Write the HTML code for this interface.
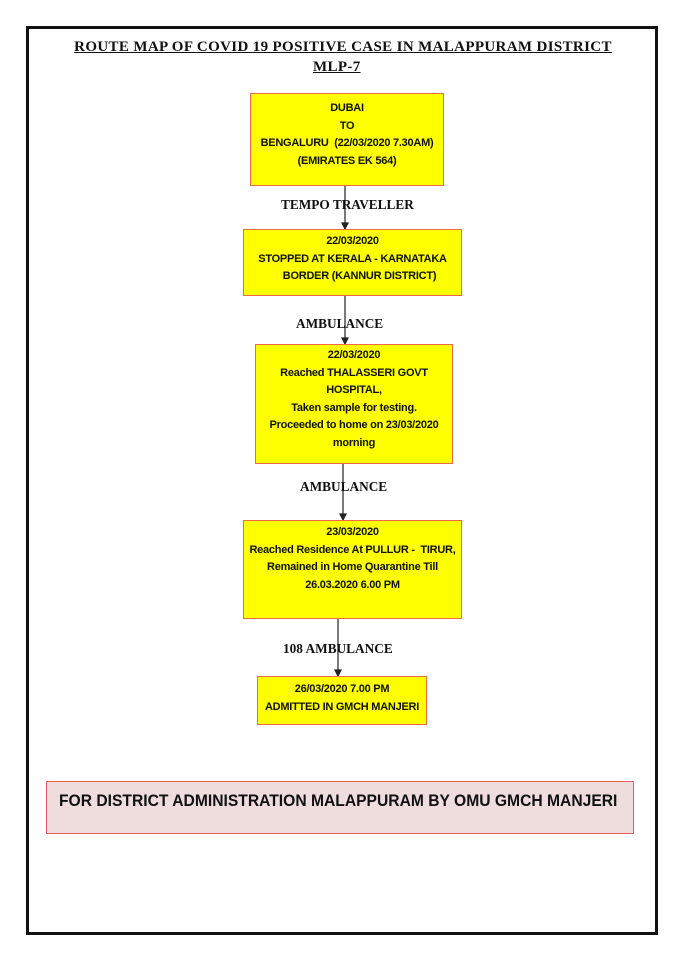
<!DOCTYPE html>
<html><head><meta charset="utf-8"><style>
body{margin:0;width:679px;height:960px;background:#fff;position:relative;overflow:hidden}
.frame{position:absolute;left:26px;top:26px;width:626px;height:903px;border:3px solid #111}
.t{position:absolute;font-family:"Liberation Serif",serif;font-weight:bold;color:#111;white-space:nowrap;text-decoration:underline;font-size:15px;letter-spacing:0.35px}
.lbl{position:absolute;font-family:"Liberation Serif",serif;font-weight:bold;color:#111;white-space:nowrap;font-size:13.3px}
.b{position:absolute;background:#ffff00;border:1.5px solid #ee6a45;box-sizing:border-box;font-family:"Liberation Sans",sans-serif;font-weight:bold;font-size:11px;letter-spacing:-0.25px;line-height:17.5px;text-align:center;color:#111;white-space:nowrap}
.foot{position:absolute;left:46px;top:781px;width:588px;height:53px;background:#efdcdc;border:1.5px solid #e06060;box-sizing:border-box;color:#111}
.foot span{position:absolute;left:12px;top:9px;font-family:"Liberation Sans",sans-serif;font-weight:bold;font-size:17px;white-space:nowrap;transform:scaleX(0.92);transform-origin:0 0}
</style></head><body>
<div class="frame"></div>
<div class="t" style="left:40px;top:39px;width:606px;text-align:center">ROUTE MAP OF COVID 19 POSITIVE CASE IN MALAPPURAM DISTRICT</div>
<div class="t" style="left:313px;top:59px">MLP-7</div>
<svg style="position:absolute;left:0;top:0" width="679" height="960">
<g stroke="#222" stroke-width="1.2" fill="#222">
<line x1="345" y1="185" x2="345" y2="224"/><polygon points="342,223 348,223 345,229"/>
<line x1="345" y1="295" x2="345" y2="339"/><polygon points="342,338 348,338 345,344"/>
<line x1="343" y1="463" x2="343" y2="515"/><polygon points="340,514 346,514 343,520"/>
<line x1="338" y1="618" x2="338" y2="671"/><polygon points="335,670 341,670 338,676"/>
</g></svg>
<div class="b" style="left:250px;top:93px;width:194px;height:93px;padding-top:6px">DUBAI<br>TO<br>BENGALURU &nbsp;(22/03/2020 7.30AM)<br>(EMIRATES EK 564)</div>
<div class="lbl" style="left:281px;top:197px">TEMPO TRAVELLER</div>
<div class="b" style="left:243px;top:229px;width:219px;height:67px;padding-top:3px">22/03/2020<br>STOPPED AT KERALA - KARNATAKA<br>&nbsp;&nbsp;&nbsp;&nbsp;&nbsp;BORDER (KANNUR DISTRICT)</div>
<div class="lbl" style="left:296px;top:316px">AMBULANCE</div>
<div class="b" style="left:255px;top:344px;width:198px;height:120px;padding-top:2px">22/03/2020<br>Reached THALASSERI GOVT<br>HOSPITAL,<br>Taken sample for testing.<br>Proceeded to home on 23/03/2020<br>morning</div>
<div class="lbl" style="left:300px;top:479px">AMBULANCE</div>
<div class="b" style="left:243px;top:520px;width:219px;height:99px;padding-top:3px">23/03/2020<br>Reached Residence At PULLUR - &nbsp;TIRUR,<br>Remained in Home Quarantine Till<br>26.03.2020 6.00 PM</div>
<div class="lbl" style="left:283px;top:641px">108 AMBULANCE</div>
<div class="b" style="left:257px;top:676px;width:170px;height:49px;padding-top:4px">26/03/2020 7.00 PM<br>ADMITTED IN GMCH MANJERI</div>
<div class="foot"><span>FOR DISTRICT ADMINISTRATION MALAPPURAM BY OMU GMCH MANJERI</span></div>
</body></html>
